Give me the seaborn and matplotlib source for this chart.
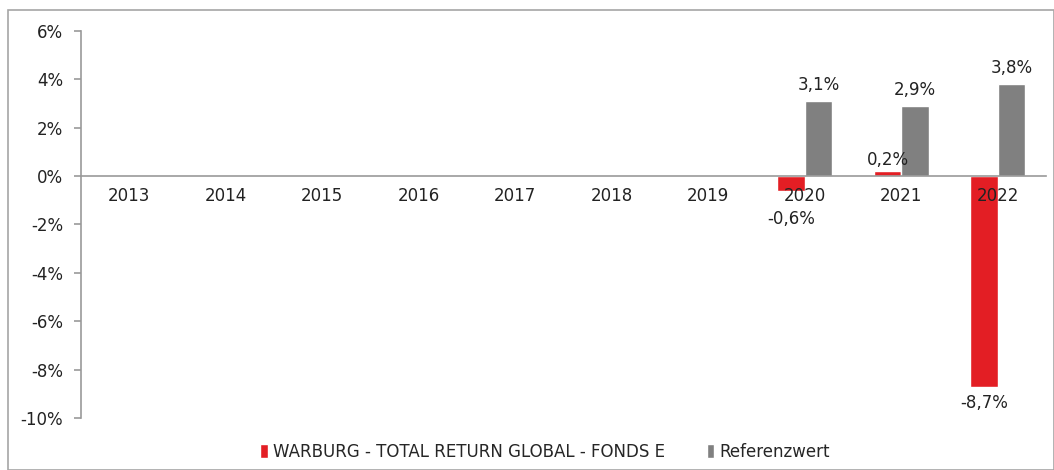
import matplotlib
matplotlib.use("Agg")
import matplotlib.pyplot as plt
import matplotlib.patches as mpatches
import numpy as np
import pandas as pd
import seaborn as sns

# data (percent)
years = ["2013", "2014", "2015", "2016", "2017", "2018", "2019", "2020", "2021", "2022"]
fonds = [np.nan, np.nan, np.nan, np.nan, np.nan, np.nan, np.nan, -0.6, 0.2, -8.7]
referenz = [np.nan, np.nan, np.nan, np.nan, np.nan, np.nan, np.nan, 3.1, 2.9, 3.8]
series = ["WARBURG - TOTAL RETURN GLOBAL - FONDS E", "Referenzwert"]
colors = ["#E31E24", "#808080"]

df = pd.DataFrame({
    "Jahr": years * 2,
    "Serie": [series[0]] * len(years) + [series[1]] * len(years),
    "Wert": fonds + referenz,
})

sns.set_style("white")
plt.rcParams["font.family"] = ["DejaVu Sans"]

fig = plt.figure(figsize=(10.54, 4.70), dpi=100)
ax = fig.add_axes([81 / 1054, 1 - 418 / 470, (1046 - 81) / 1054, (418 - 31) / 470])

sns.barplot(data=df, x="Jahr", y="Wert", hue="Serie", order=years, hue_order=series,
            palette=colors, width=0.57, errorbar=None, saturation=1, ax=ax)

ax.set_ylim(-10, 6)
ax.set_xlim(-0.5, len(years) - 0.5)
ax.set_yticks(np.arange(-10, 7, 2))
ax.set_yticklabels([f"{t}%" for t in range(-10, 7, 2)], fontsize=12, color="#222222")
ax.set_xlabel("")
ax.set_ylabel("")
ax.set_axisbelow(False)  # year labels drawn over the bars

# x axis sits on the zero line, ticks between categories
ax.spines["bottom"].set_position(("data", 0))
ax.spines["top"].set_visible(False)
ax.spines["right"].set_visible(False)
for s in ["left", "bottom"]:
    ax.spines[s].set_color("#999999")
    ax.spines[s].set_linewidth(1.2)
ax.set_xticks(np.arange(-0.5, len(years), 1), minor=True)
ax.tick_params(axis="x", which="major", length=0, pad=8, labelsize=12, labelcolor="#222222")
ax.tick_params(axis="x", which="minor", length=5, width=1.2, color="#999999", direction="out")
ax.tick_params(axis="y", length=5, width=1.2, color="#999999", direction="out", left=True, pad=8)

# data labels
values = {series[0]: fonds, series[1]: referenz}
offsets = {series[0]: {"2020": -14, "2021": 2, "2022": -5},
           series[1]: {"2020": 5, "2021": 5, "2022": 5}}
for container, name in zip(ax.containers, series):
    for bar in container:
        i = int(round(bar.get_x() + bar.get_width() / 2))
        v = values[name][i]
        if np.isnan(v):
            continue
        x = bar.get_x() + bar.get_width() / 2
        off = offsets[name][years[i]]
        ax.annotate(f"{v:.1f}%".replace(".", ","), (x, v), xytext=(0, off),
                    textcoords="offset points", ha="center",
                    va="bottom" if off > 0 else "top", fontsize=12, color="#222222")

handles, labels = ax.get_legend_handles_labels()
ax.get_legend().remove()
fig.legend(handles, labels, loc="center", bbox_to_anchor=(545 / 1054, 1 - 452 / 470), ncol=2,
           frameon=False, fontsize=12, handlelength=0.45, handleheight=0.9,
           handletextpad=0.3, columnspacing=2.5)

# outer chart border
fig.patches.append(mpatches.Rectangle((8 / 1054, 0), 1 - 8 / 1054, 1 - 10 / 470,
                                      transform=fig.transFigure, fill=False,
                                      edgecolor="#A6A6A6", linewidth=1.2))

fig.savefig("out.png", dpi=100)
